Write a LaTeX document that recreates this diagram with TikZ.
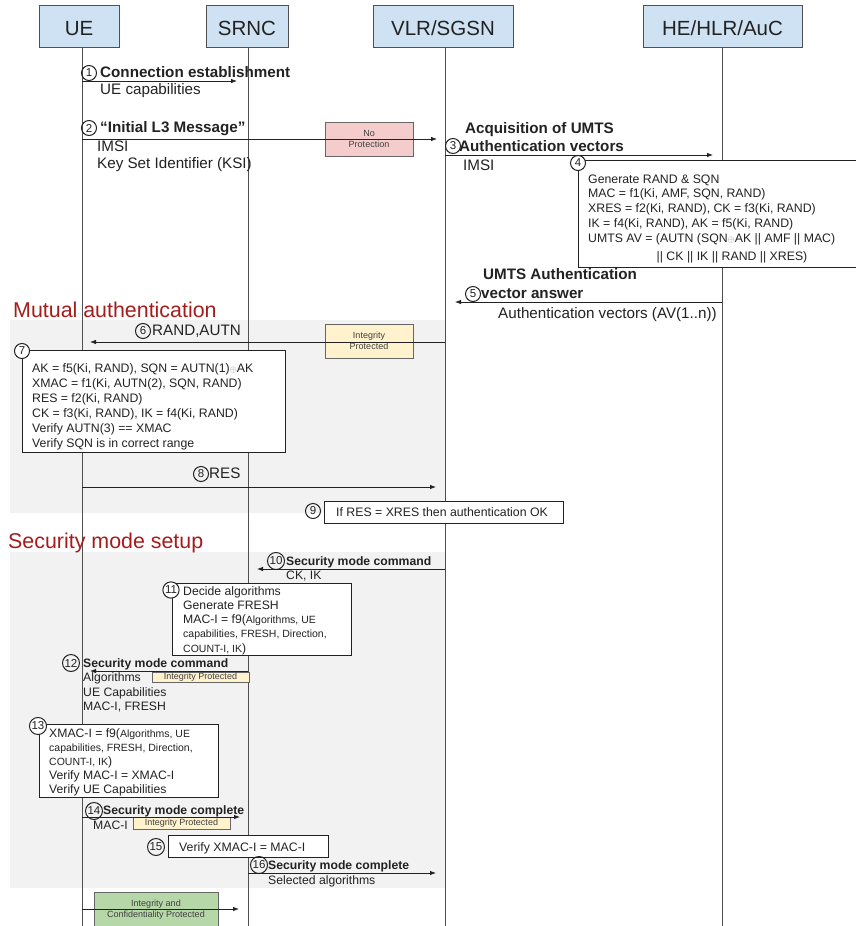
\documentclass[tikz,border=0pt]{standalone}
\usepackage{fontspec}
\setmainfont{Liberation Sans}
\usetikzlibrary{arrows.meta}

\definecolor{hdrfill}{HTML}{CFE2F3}
\definecolor{linegray}{HTML}{505050}
\definecolor{zonegray}{HTML}{F2F2F2}
\definecolor{titlered}{HTML}{A61C1C}
\definecolor{pinkfill}{HTML}{F4CCCC}
\definecolor{yellowfill}{HTML}{FFF2CC}
\definecolor{greenfill}{HTML}{B6D7A8}
\definecolor{ink}{HTML}{222222}

\newcommand\fsz[2]{\fontsize{#1}{#2}\selectfont}
\newcommand\xor{\textcolor{black!45}{$\scriptstyle\oplus$}}

\begin{document}
\begin{tikzpicture}[x=1pt,y=-1pt,
  every node/.style={inner sep=0pt, text=ink},
  hdr/.style={draw=linegray, fill=hdrfill, line width=0.8pt, minimum height=42pt,
    text height=18pt, text depth=0pt, font=\fsz{20.5}{24}},
  life/.style={draw=linegray, line width=1pt},
  msg/.style={draw=ink, line width=0.8pt, -{Latex[length=6pt,width=4.5pt]}},
  zone/.style={fill=zonegray, draw=none},
  note/.style={draw=ink, fill=white, line width=0.8pt},
  tag/.style={draw=black!60, line width=0.7pt, align=center, font=\fsz{9}{11},
    text=black!75},
  num/.style={circle, draw=ink, line width=1pt, inner sep=0.7pt,
    minimum size=15pt, font=\fsz{11.5}{11.5}},
  lbl/.style={anchor=base west, font=\fsz{15.2}{18}},
  blbl/.style={anchor=base west, font=\bfseries\fsz{15.2}{18}},
  slbl/.style={anchor=base west, font=\fsz{12.2}{14}},
  sblbl/.style={anchor=base west, font=\bfseries\fsz{12.2}{14}},
  boxtext/.style={anchor=base west, align=left},
  title/.style={anchor=base west, font=\fsz{21.4}{24}, text=titlered},
]
\useasboundingbox (0,0) rectangle (856,926);
\fill[white] (0,0) rectangle (856,926);

% shaded phases
\fill[zone] (10,320) rectangle (445,513);
\fill[zone] (10,552) rectangle (445,888);

% entities
\node[hdr, minimum width=80pt]  (ue)   at (79,26)    {UE};
\node[hdr, minimum width=82pt]  (srnc) at (247,26)   {SRNC};
\node[hdr, minimum width=140pt] (vlr)  at (443,26)   {VLR/SGSN};
\node[hdr, minimum width=159pt] (hlr)  at (722.5,26) {HE/HLR/AuC};

% lifelines
\coordinate (ueEnd)   at (82,926);
\coordinate (srncEnd) at (248,926);
\coordinate (vlrEnd)  at (445,926);
\coordinate (hlrEnd)  at (722,926);
\draw[life] (ue.south -| ueEnd) -- (ueEnd);
\draw[life] (srnc.south -| srncEnd) -- (srncEnd);
\draw[life] (vlr.south -| vlrEnd) -- (vlrEnd);
\draw[life] (hlr.south -| hlrEnd) -- (hlrEnd);

% phase titles
\node[title] (tMutual) at (13,317) {Mutual authentication};
\node[title] (tSec)    at (8,548)  {Security mode setup};

% protection tags
\node[tag, fill=pinkfill, minimum width=88pt, minimum height=34pt] (tagNo) at (369,139) {No\\Protection};
\node[tag, fill=yellowfill, minimum width=88pt, minimum height=34pt] (tagIP6) at (369,341) {Integrity\\Protected};
\node[tag, fill=yellowfill, minimum width=97pt, minimum height=10pt] (tagIP12) at (200.5,677) {Integrity Protected};
\node[tag, fill=yellowfill, minimum width=97pt, minimum height=12pt] (tagIP14) at (181.5,823) {Integrity Protected};
\node[tag, fill=greenfill, minimum width=124pt, minimum height=34pt] (tagIC) at (156,909.5) {Integrity and\\Confidentiality Protected};

% message end points
\coordinate (m1a) at (82,81);   \coordinate (m1b) at (237,81);
\coordinate (m2a) at (82,139);  \coordinate (m2b) at (437,139);
\coordinate (m3a) at (445,155); \coordinate (m3b) at (713,155);
\coordinate (m5a) at (722,302); \coordinate (m5b) at (455,302);
\coordinate (m6a) at (445,342); \coordinate (m6b) at (90,342);
\coordinate (m8a) at (82,487);  \coordinate (m8b) at (436,487);
\coordinate (m10a) at (445,569); \coordinate (m10b) at (257,569);
\coordinate (m12a) at (248,671); \coordinate (m12b) at (90,671);
\coordinate (m14a) at (82,817);  \coordinate (m14b) at (240,817);
\coordinate (m16a) at (248,873); \coordinate (m16b) at (436,873);
\coordinate (m17a) at (82,909);  \coordinate (m17b) at (239,909);

% messages
\draw[msg] (m1a) -- (m1b);
\draw[msg] (m2a) -- (m2b);
\draw[msg] (m3a) -- (m3b);
\draw[msg] (m5a) -- (m5b);
\draw[msg] (m6a) -- (m6b);
\draw[msg] (m8a) -- (m8b);
\draw[msg] (m10a) -- (m10b);
\draw[msg] (m12a) -- (m12b);
\draw[msg] (m14a) -- (m14b);
\draw[msg] (m16a) -- (m16b);
\draw[msg] (m17a) -- (m17b);

% 1 connection establishment
\node[num] (n1) at (89,73) {1};
\node[blbl] (l1) at (100,77) {Connection establishment};
\node[lbl] (l1b) at (100,94) {UE capabilities};

% 2 initial L3 message
\node[num] (n2) at (89,128) {2};
\node[blbl] (l2) at (100,132) {“Initial L3 Message”};
\node[lbl] (l2b) at (97,151) {IMSI};
\node[lbl] (l2c) at (97,168) {Key Set Identifier (KSI)};

% 3 acquisition of vectors
\node[blbl] (l3) at (465,133) {Acquisition of UMTS};
\node[num] (n3) at (453,146) {3};
\node[blbl] (l3b) at (459,151) {Authentication vectors};
\node[lbl] (l3c) at (463,170) {IMSI};

% 4 vector generation (multi-line text is anchored at its last baseline)
\node[note, anchor=north west, minimum width=292pt, minimum height=107pt] (b4) at (578,160) {};
\node[boxtext, font=\fsz{12.3}{14.75}] (t4) at (588,242)
  {Generate RAND \& SQN\\MAC = f1(Ki, AMF, SQN, RAND)\\XRES = f2(Ki, RAND), CK = f3(Ki, RAND)\\IK = f4(Ki, RAND), AK = f5(Ki, RAND)\\UMTS AV = (AUTN (SQN\xor AK || AMF || MAC)};
\node[anchor=base, font=\fsz{12.3}{15}] (t4b) at (732,260) {|| CK || IK || RAND || XRES)};
\node[num, fill=white] (n4) at (578,163) {4};

% 5 vector answer
\node[blbl] (l5) at (483,279) {UMTS Authentication};
\node[num] (n5) at (473,294) {5};
\node[blbl] (l5b) at (481,298) {vector answer};
\node[lbl] (l5c) at (498,318) {Authentication vectors (AV(1..n))};

% 6 challenge
\node[num] (n6) at (143,331) {6};
\node[lbl] (l6) at (152,335) {RAND,AUTN};

% 7 UE verification
\node[note, anchor=north west, minimum width=263pt, minimum height=102pt] (b7) at (22,350) {};
\node[boxtext, font=\fsz{12.3}{15}] (t7) at (32,447)
  {AK = f5(Ki, RAND), SQN = AUTN(1)\xor AK\\XMAC = f1(Ki, AUTN(2), SQN, RAND)\\RES = f2(Ki, RAND)\\CK = f3(Ki, RAND), IK = f4(Ki, RAND)\\Verify AUTN(3) == XMAC\\Verify SQN is in correct range};
\node[num, fill=white] (n7) at (22,351) {7};

% 8 response
\node[num] (n8) at (201,474) {8};
\node[lbl] (l8) at (209,478) {RES};

% 9 comparison
\node[note, anchor=north west, minimum width=239pt, minimum height=22pt] (b9) at (324,501) {};
\node[anchor=base west, font=\fsz{12.3}{15}] (t9) at (336,516) {If RES = XRES then authentication OK};
\node[num] (n9) at (313,511) {9};

% 10 security mode command to SRNC
\node[num] (n10) at (276,561) {10};
\node[sblbl] (l10) at (286,565) {Security mode command};
\node[slbl] (l10b) at (286,579) {CK, IK};

% 11 SRNC decision
\node[note, anchor=north west, minimum width=179pt, minimum height=72pt] (b11) at (172,583) {};
\node[boxtext, font=\fsz{12.2}{14.25}] (t11) at (183,652)
  {Decide algorithms\\Generate FRESH\\MAC-I = f9({\fsz{10.5}{14.25}Algorithms, UE}\\{\fsz{10.5}{14.25}capabilities, FRESH, Direction,}\\{\fsz{10.5}{14.25}COUNT-I, IK})};
\node[num, fill=white] (n11) at (171,590) {11};

% 12 security mode command to UE
\node[num] (n12) at (71,663) {12};
\node[sblbl] (l12) at (83,667) {Security mode command};
\node[slbl] (l12b) at (83,681) {Algorithms};
\node[slbl] (l12c) at (83,696) {UE Capabilities};
\node[slbl] (l12d) at (83,710) {MAC-I, FRESH};

% 13 UE check
\node[note, anchor=north west, minimum width=179pt, minimum height=73pt] (b13) at (39,724) {};
\node[boxtext, font=\fsz{12.2}{14}] (t13) at (49,793)
  {XMAC-I = f9({\fsz{10.5}{14}Algorithms, UE}\\{\fsz{10.5}{14}capabilities, FRESH, Direction,}\\{\fsz{10.5}{14}COUNT-I, IK})\\Verify MAC-I = XMAC-I\\Verify UE Capabilities};
\node[num, fill=white] (n13) at (38,726) {13};

% 14 security mode complete to SRNC
\node[num] (n14) at (94,811) {14};
\node[sblbl] (l14) at (103,814) {Security mode complete};
\node[slbl] (l14b) at (93,829) {MAC-I};

% 15 SRNC check
\node[note, anchor=north west, minimum width=160pt, minimum height=22pt] (b15) at (168,835) {};
\node[anchor=base west, font=\fsz{12.3}{15}] (t15) at (179,851) {Verify XMAC-I = MAC-I};
\node[num] (n15) at (156,847) {15};

% 16 security mode complete to VLR
\node[num] (n16) at (259,865) {16};
\node[sblbl] (l16) at (268,869) {Security mode complete};
\node[slbl] (l16b) at (268,884) {Selected algorithms};
\end{tikzpicture}
\end{document}
